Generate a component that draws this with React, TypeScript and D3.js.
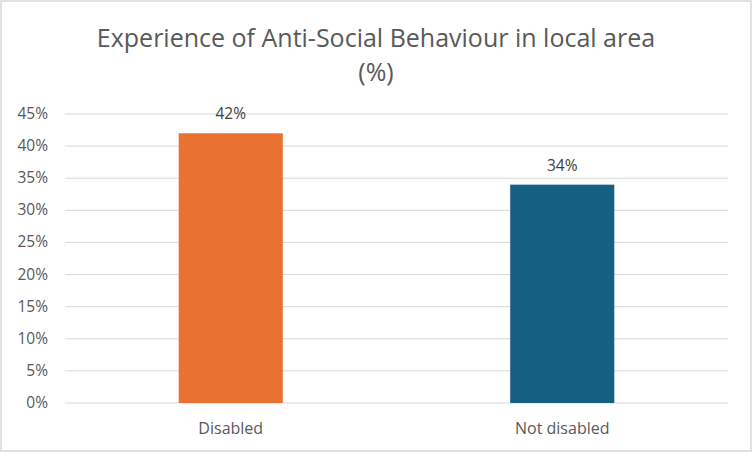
import { scaleBand, scaleLinear } from "d3";

const categories = ["Disabled", "Not disabled"];
const values = [42, 34];
const barColors = ["#E97132", "#156082"];
const yTicks = [0, 5, 10, 15, 20, 25, 30, 35, 40, 45];

const width = 752;
const height = 452;
const margin = { top: 114, right: 24, bottom: 49, left: 65 };
const font = "'Open Sans', 'Liberation Sans', sans-serif";

export default function App() {
  const innerW = width - margin.left - margin.right;
  const innerH = height - margin.top - margin.bottom;

  const x = scaleBand().domain(categories).range([0, innerW]).paddingInner(0.686).paddingOuter(0.343);
  const y = scaleLinear().domain([0, 45]).range([innerH, 0]);

  return (
    <svg
      width={width}
      height={height}
      style={{ position: "absolute", left: 0, top: 0, display: "block", background: "#fff" }}
      fontFamily={font}
    >
      <rect x={1} y={1} width={width - 2} height={height - 2} fill="#fff" stroke="#d9d9d9" strokeWidth={1.5} />
      <text x={width / 2} y={47} textAnchor="middle" fontSize={25} fill="#595959">
        Experience of Anti-Social Behaviour in local area
      </text>
      <text x={width / 2} y={81} textAnchor="middle" fontSize={25} fill="#595959">
        (%)
      </text>
      <g transform={`translate(${margin.left}, ${margin.top})`}>
        {yTicks.map((t) => (
          <g key={t}>
            <line x1={0} x2={innerW} y1={y(t)} y2={y(t)} stroke="#d9d9d9" strokeWidth={1} />
            <text x={-17} y={y(t) + 5} textAnchor="end" fontSize={15.5} fill="#595959">
              {t}%
            </text>
          </g>
        ))}
        {categories.map((c, i) => (
          <g key={c}>
            <rect
              x={x(c)}
              y={y(values[i])}
              width={x.bandwidth()}
              height={innerH - y(values[i])}
              fill={barColors[i]}
            />
            <text
              x={(x(c) ?? 0) + x.bandwidth() / 2}
              y={y(values[i]) - 14}
              textAnchor="middle"
              fontSize={15.5}
              fill="#404040"
            >
              {values[i]}%
            </text>
            <text
              x={(x(c) ?? 0) + x.bandwidth() / 2}
              y={innerH + 31}
              textAnchor="middle"
              fontSize={16}
              fill="#595959"
            >
              {c}
            </text>
          </g>
        ))}
      </g>
    </svg>
  );
}
